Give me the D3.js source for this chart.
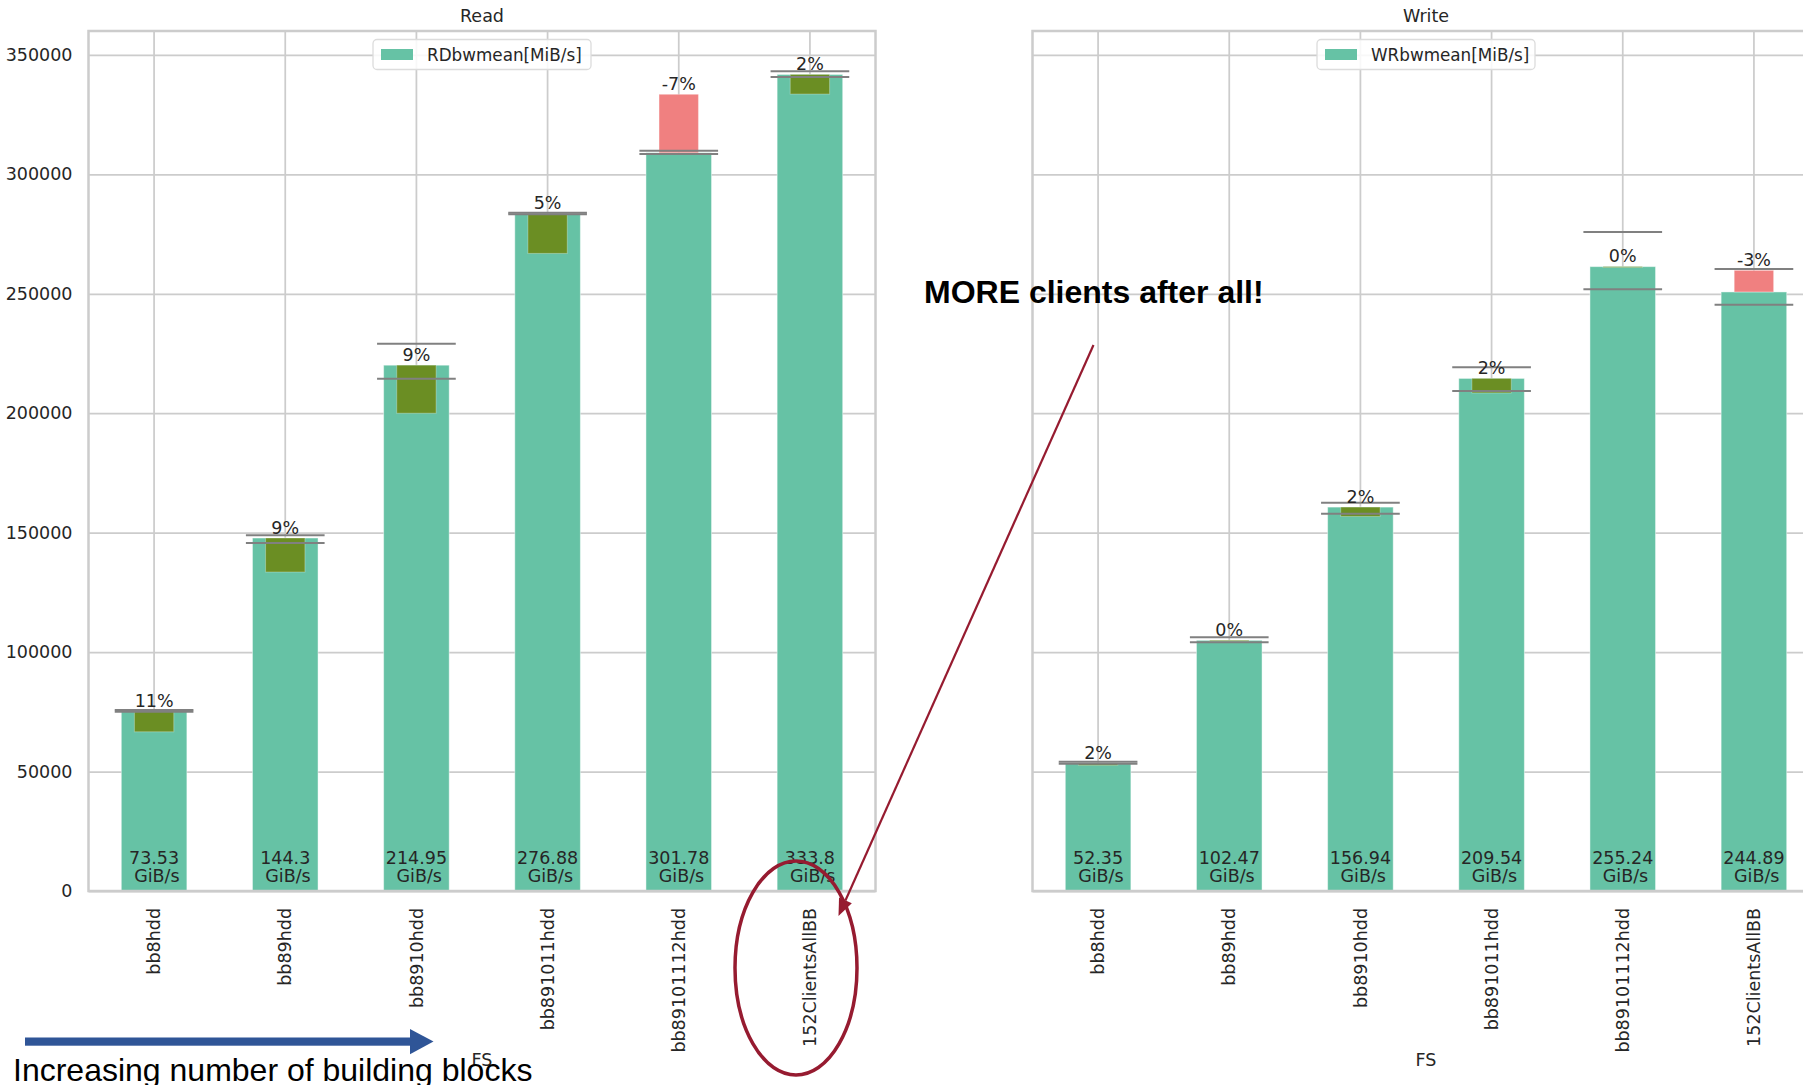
<!DOCTYPE html>
<html>
<head>
<meta charset="utf-8">
<script src="https://cdn.jsdelivr.net/npm/d3@7"></script>
<style>
  body { margin: 0; background: #fff; }
  svg { display: block; }
</style>
</head>
<body>
<svg id="fig" width="1803" height="1085"></svg>
<script>
// ---- data ----------------------------------------------------------------
const categories = ["bb8hdd", "bb89hdd", "bb8910hdd", "bb891011hdd", "bb89101112hdd", "152ClientsAllBB"];

// mean bandwidth per configuration, GiB/s (bars are drawn in MiB/s = GiB/s * 1024)
const readGiB  = [73.53, 144.3, 214.95, 276.88, 301.78, 333.8];
const writeGiB = [52.35, 102.47, 156.94, 209.54, 255.24, 244.89];

// reference run, MiB/s (the olive / red difference block spans bar top to this value)
const readRef  = [66650, 133530, 200000, 266900, 333500, 333600];
const writeRef = [52600, 104500, 156800, 208500, 261000, 259800];

// spread of the repeated runs, MiB/s
const readLo  = [75000, 145670, 214450, 283300, 308500, 340700];
const readHi  = [75800, 148890, 229100, 283900, 309900, 343200];
const writeLo = [53290, 104100, 157940, 209300, 251860, 245400];
const writeHi = [54130, 106190, 162540, 219200, 275850, 260360];

// relative difference labels
const readPct  = ["11%", "9%", "9%", "5%", "-7%", "2%"];
const writePct = ["2%", "0%", "2%", "2%", "0%", "-3%"];

// y axis
const yTicks = [0, 50000, 100000, 150000, 200000, 250000, 300000, 350000];
const yMax = 360000;

// ---- layout ----------------------------------------------------------------
const W = 1803, H = 1085;
const plotTop = 31, plotBottom = 891, plotW = 787;
const font = "'DejaVu Sans', sans-serif";
const txt = "#262626";
const fs = 17.5;

const svg = d3.select("#fig");
svg.append("rect").attr("width", W).attr("height", H).attr("fill", "#fff");

const y = d3.scaleLinear().domain([0, yMax]).range([plotBottom, plotTop]);

const panels = [
  { title: "Read",  legend: "RDbwmean[MiB/s]", gib: readGiB,  ref: readRef,  lo: readLo,  hi: readHi,  pct: readPct,  left: 88.5,   showY: true },
  { title: "Write", legend: "WRbwmean[MiB/s]", gib: writeGiB, ref: writeRef, lo: writeLo, hi: writeHi, pct: writePct, left: 1032.5, showY: false }
];

panels.forEach(p => {
  const g = svg.append("g").attr("transform", `translate(${p.left},0)`);
  const x = d3.scaleBand().domain(categories).range([0, plotW]);
  const bw = x.bandwidth();
  const rows = categories.map((c, i) => ({
    c, val: p.gib[i] * 1024, gib: p.gib[i], ref: p.ref[i], lo: p.lo[i], hi: p.hi[i], pct: p.pct[i]
  }));

  // horizontal grid + y tick labels
  const gy = g.append("g").call(
    d3.axisLeft(y).tickValues(yTicks).tickSize(-plotW).tickPadding(16).tickFormat(d3.format("d"))
  );
  gy.select(".domain").remove();
  gy.selectAll("line").attr("stroke", "#cccccc").attr("stroke-width", 1.75);
  gy.selectAll("text").attr("fill", txt).style("font", `${fs}px ${font}`);
  if (!p.showY) gy.selectAll("text").remove();

  // vertical grid + rotated category labels
  const gx = g.append("g").attr("transform", `translate(0,${plotBottom})`).call(
    d3.axisBottom(x).tickSize(-(plotBottom - plotTop))
  );
  gx.select(".domain").remove();
  gx.selectAll("line").attr("stroke", "#cccccc").attr("stroke-width", 1.75);
  gx.selectAll("text")
    .attr("fill", txt).style("font", `${fs}px ${font}`)
    .attr("transform", "rotate(-90)")
    .attr("text-anchor", "end")
    .attr("x", -17).attr("y", 0).attr("dy", "0.35em");

  // main bars
  g.selectAll(".bar").data(rows).join("rect").attr("class", "bar")
    .attr("x", d => x(d.c) + bw * 0.25)
    .attr("width", bw * 0.5)
    .attr("y", d => y(d.val))
    .attr("height", d => y(0) - y(d.val))
    .attr("fill", "#66c2a5")
    .attr("stroke", "#ffffff").attr("stroke-opacity", 0.45).attr("stroke-width", 1);

  // difference blocks against the reference run
  g.selectAll(".diff").data(rows).join("rect").attr("class", "diff")
    .attr("x", d => x(d.c) + bw * 0.35)
    .attr("width", bw * 0.3)
    .attr("y", d => y(Math.max(d.val, d.ref)))
    .attr("height", d => Math.abs(y(d.val) - y(d.ref)))
    .attr("fill", d => d.ref <= d.val ? "#6b8e23" : "#f08080")
    .attr("stroke", "#ffffff").attr("stroke-opacity", 0.3).attr("stroke-width", 1);

  // min / max marks
  ["lo", "hi"].forEach(k => {
    g.selectAll(".mark-" + k).data(rows).join("line").attr("class", "mark-" + k)
      .attr("x1", d => x(d.c) + bw * 0.2)
      .attr("x2", d => x(d.c) + bw * 0.8)
      .attr("y1", d => y(d[k])).attr("y2", d => y(d[k]))
      .attr("stroke", "#808080").attr("stroke-width", 2);
  });

  // percentage labels above the higher of bar / reference
  g.selectAll(".pct").data(rows).join("text").attr("class", "pct")
    .attr("x", d => x(d.c) + bw / 2)
    .attr("y", d => y(Math.max(d.val, d.ref)) - 4.2)
    .attr("text-anchor", "middle")
    .attr("fill", txt).style("font", `${fs}px ${font}`)
    .text(d => d.pct);

  // GiB/s labels at the bar foot
  const vl = g.selectAll(".val").data(rows).join("text").attr("class", "val")
    .attr("text-anchor", "middle")
    .attr("fill", txt).style("font", `${fs}px ${font}`);
  vl.append("tspan").attr("x", d => x(d.c) + bw / 2).attr("y", 863.5).text(d => d.gib);
  vl.append("tspan").attr("x", d => x(d.c) + bw / 2).attr("y", 881.5).text("\u00a0GiB/s");

  // frame
  g.append("rect")
    .attr("x", 0).attr("y", plotTop).attr("width", plotW).attr("height", plotBottom - plotTop)
    .attr("fill", "none").attr("stroke", "#cccccc").attr("stroke-width", 2.5);

  // title
  g.append("text").attr("x", plotW / 2).attr("y", 22).attr("text-anchor", "middle")
    .attr("fill", txt).style("font", `${fs}px ${font}`).text(p.title);

  // legend
  const lg = g.append("g").attr("transform", `translate(${plotW / 2 - 109},39.5)`);
  lg.append("rect").attr("width", 218).attr("height", 30).attr("rx", 4)
    .attr("fill", "#fff").attr("fill-opacity", 0.85)
    .attr("stroke", "#dcdcdc").attr("stroke-width", 1.3);
  lg.append("rect").attr("x", 8).attr("y", 9.5).attr("width", 32).attr("height", 11).attr("fill", "#66c2a5");
  lg.append("text").attr("x", 54).attr("y", 21).attr("fill", txt)
    .style("font", `16.8px ${font}`).text(p.legend);

  // x axis label
  g.append("text").attr("x", plotW / 2).attr("y", 1066).attr("text-anchor", "middle")
    .attr("fill", txt).style("font", `${fs}px ${font}`).text("FS");
});

// ---- callouts --------------------------------------------------------------
const red = "#961b30";
const ann = svg.append("g");

ann.append("ellipse")
  .attr("cx", 796).attr("cy", 968).attr("rx", 61).attr("ry", 107)
  .attr("fill", "none").attr("stroke", red).attr("stroke-width", 3.5);

// pointer from the note down to the last read bar
const p0 = [1093.5, 345], p1 = [838.5, 916];
const dx = p1[0] - p0[0], dy = p1[1] - p0[1], len = Math.hypot(dx, dy);
const ux = dx / len, uy = dy / len, hl = 17, hw = 7;
const base = [p1[0] - ux * hl, p1[1] - uy * hl];
ann.append("line")
  .attr("x1", p0[0]).attr("y1", p0[1]).attr("x2", base[0]).attr("y2", base[1])
  .attr("stroke", red).attr("stroke-width", 2.2);
ann.append("polygon")
  .attr("points", [
    p1,
    [base[0] - uy * hw, base[1] + ux * hw],
    [base[0] + uy * hw, base[1] - ux * hw]
  ].map(q => q.join(",")).join(" "))
  .attr("fill", red);

ann.append("text").attr("x", 924).attr("y", 303)
  .attr("fill", "#000")
  .style("font", "bold 32px 'Liberation Sans', Arial, sans-serif")
  .text("MORE clients after all!");

// blue progression arrow
const blue = "#2f5597";
ann.append("rect").attr("x", 25).attr("y", 1037.5).attr("width", 386).attr("height", 8.2).attr("fill", blue);
ann.append("polygon").attr("points", "410,1029 433.5,1041.6 410,1054.2").attr("fill", blue);

ann.append("text").attr("x", 13).attr("y", 1081)
  .attr("fill", "#000")
  .style("font", "32px 'Liberation Sans', Arial, sans-serif")
  .text("Increasing number of building blocks");
</script>
</body>
</html>
